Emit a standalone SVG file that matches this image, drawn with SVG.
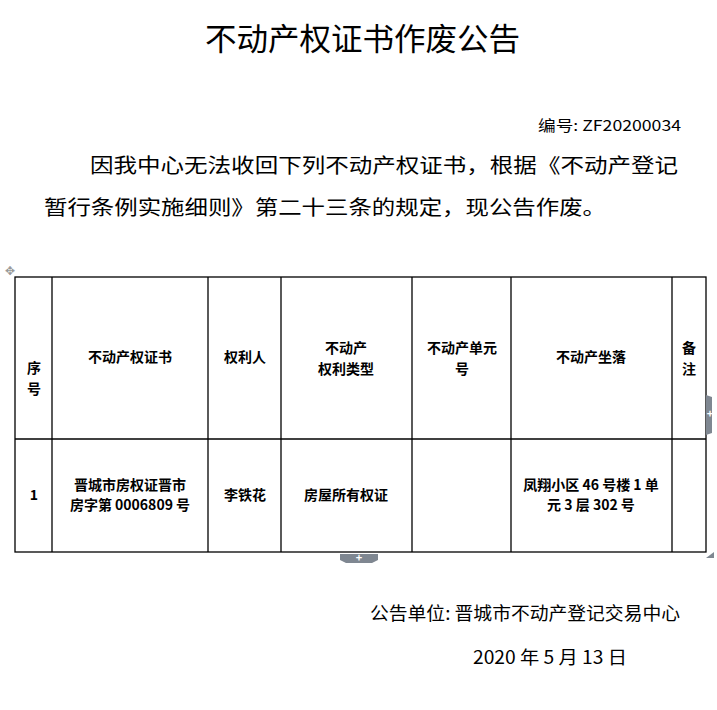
<svg xmlns="http://www.w3.org/2000/svg" width="717" height="710" viewBox="0 0 717 710">
<style>
text{font-family:"Noto Sans CJK SC","Liberation Serif",serif;fill:#000}
.c{font-size:14px;text-anchor:middle;font-weight:bold}
.b{font-size:20px}
line,rect.t{stroke:#000;stroke-width:1.3;fill:none}
</style>
<rect width="717" height="710" fill="#fff"/>
<text x="205" y="50" font-size="31" textLength="315" lengthAdjust="spacingAndGlyphs">不动产权证书作废公告</text>
<text x="538" y="131" font-size="15" textLength="143" lengthAdjust="spacingAndGlyphs">编号: ZF20200034</text>
<text class="b" x="90" y="173" textLength="588" lengthAdjust="spacingAndGlyphs">因我中心无法收回下列不动产权证书，根据《不动产登记</text>
<text class="b" x="44" y="215" textLength="562" lengthAdjust="spacingAndGlyphs">暂行条例实施细则》第二十三条的规定，现公告作废。</text>
<g id="table">
<rect class="t" x="15" y="277" width="691" height="275"/>
<line x1="15" y1="439" x2="706" y2="439"/>
<line x1="52" y1="277" x2="52" y2="552"/>
<line x1="208" y1="277" x2="208" y2="552"/>
<line x1="281" y1="277" x2="281" y2="552"/>
<line x1="412" y1="277" x2="412" y2="552"/>
<line x1="511" y1="277" x2="511" y2="552"/>
<line x1="672" y1="277" x2="672" y2="552"/>
</g>
<g id="header">
<text class="c" x="34" y="373">序</text><text class="c" x="34" y="394">号</text>
<text class="c" x="130" y="362">不动产权证书</text>
<text class="c" x="245" y="362">权利人</text>
<text class="c" x="346" y="353">不动产</text><text class="c" x="346" y="374">权利类型</text>
<text class="c" x="462" y="353">不动产单元</text><text class="c" x="462" y="374">号</text>
<text class="c" x="591" y="362">不动产坐落</text>
<text class="c" x="689" y="353">备</text><text class="c" x="689" y="374">注</text>
</g>
<g id="row1">
<text class="c" x="34" y="500" font-family="Liberation Serif">1</text>
<text class="c" x="130" y="490">晋城市房权证晋市</text><text class="c" x="130" y="510">房字第 0006809 号</text>
<text class="c" x="245" y="500">李铁花</text>
<text class="c" x="346" y="500">房屋所有权证</text>
<text class="c" x="591" y="490">凤翔小区 46 号楼 1 单</text><text class="c" x="591" y="510">元 3 层 302 号</text>
</g>
<g id="ui" fill="#7f8791">
<path d="M340 554h38v6l-6 3h-26l-6-3z"/>
<text x="359" y="562" font-size="11" text-anchor="middle" style="fill:#fff;font-weight:bold">+</text>
<path d="M706 395l6 2v36l-6 2z"/>
<text x="710" y="418" font-size="11" text-anchor="middle" style="fill:#fff;font-weight:bold">+</text>
<path d="M706 558l8-6v6z"/>
<text x="10" y="275" font-size="12" text-anchor="middle" style="fill:#999">✥</text>
</g>
<text x="370" y="620" font-size="18" textLength="310" lengthAdjust="spacingAndGlyphs">公告单位: 晋城市不动产登记交易中心</text>
<text x="473" y="664" font-size="18" textLength="154" lengthAdjust="spacingAndGlyphs">2020 年 5 月 13 日</text>
</svg>
